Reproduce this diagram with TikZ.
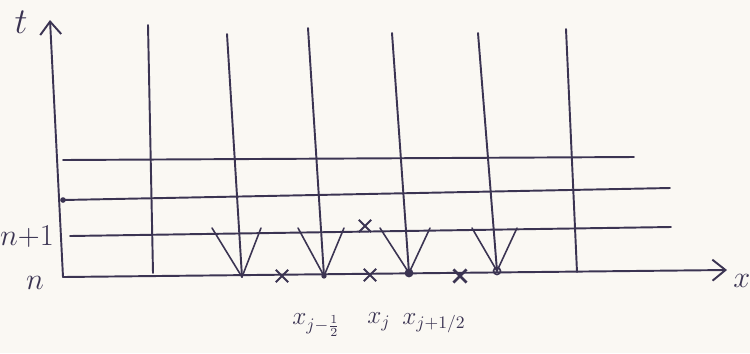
\documentclass[tikz,border=0pt]{standalone}
\usetikzlibrary{arrows.meta,shapes.misc}
\definecolor{cInk}{HTML}{3B3452}
\definecolor{cPaper}{HTML}{FAF8F3}
\tikzset{
  font=\LARGE,
  >={Straight Barb[length=2.6mm, width=4.2mm]},
  ink/.style={draw=cInk, line width=1.1pt, line cap=round, line join=round},
  axis/.style={ink, ->},
  gridl/.style={ink},
  fan/.style={ink, line width=0.9pt},
  xmark/.style={cross out, draw=cInk, line width=1.1pt, minimum size=6pt, inner sep=0pt},
  pdot/.style={circle, fill=cInk, inner sep=0pt, minimum size=#1},
  odot/.style={circle, draw=cInk, line width=0.9pt, inner sep=0pt, minimum size=4pt},
  lbl/.style={text=cInk},
  poslbl/.style={lbl, anchor=west, inner sep=0pt, font=\Large},
}

\begin{document}
\begin{tikzpicture}[x=0.02cm, y=-0.02cm]
\fill[cPaper] (0,0) rectangle (750,353);
\useasboundingbox (0,0) rectangle (750,353);

% ------------------------------------------------------------------ axes
\coordinate (O)    at (63,277);
\coordinate (ttip) at (50,20);
\coordinate (xtip) at (727,270);
\draw[axis] (O) -- (ttip);
\draw[axis] (O) -- (xtip);
\node[lbl, font=\huge] (tlab) at (21,22) {$t$};
\node[lbl, anchor=west, inner sep=0pt] (xlab) at (733,281) {$x$};
\node[lbl] (nlab)  at (35,283) {$n$};
\node[lbl] (n1lab) at (27,237) {$n{+}1$};

% ------------------------------------------------------------------ time levels
\coordinate (h1a) at (63,160);  \coordinate (h1b) at (634,157);
\coordinate (h2a) at (63,200);  \coordinate (h2b) at (670,188);
\coordinate (h3a) at (70,236);  \coordinate (h3b) at (671,227);
\draw[gridl] (h1a) -- (h1b);
\draw[gridl] (h2a) -- (h2b);
\draw[gridl] (h3a) -- (h3b);
\fill[cInk] (h2a) circle (1.6pt);

% ------------------------------------------------------------------ cell edges
\foreach \i/\xt/\yt/\xb/\yb in {1/148/25/153/273, 2/227/34/242/277, 3/308/28/324/276,
                                4/392/33/409/273, 5/478/33/497/271, 6/566/29/577/272}{
  \coordinate (vt\i) at (\xt,\yt);
  \coordinate (vb\i) at (\xb,\yb);
  \draw[gridl] (vt\i) -- (vb\i);
}

% characteristic fans going back to level n
\foreach \i/\la/\ra in {2/212/261, 3/298/344, 4/380/430, 5/472/517}{
  \coordinate (fl\i) at (\la,228);
  \coordinate (fr\i) at (\ra,228);
  \draw[fan] (fl\i) -- (vb\i) -- (fr\i);
}

% ------------------------------------------------------------------ points
\node[xmark] (c1) at (282,276) {};
\node[xmark] (c2) at (365,226) {};
\node[xmark] (c3) at (370,275) {};
\node[xmark, line width=1.5pt] (c4) at (460,276) {};
\node[pdot=3pt] (d1) at (vb3) {};
\node[pdot=5pt] (d2) at (vb4) {};
\node[odot]     (d3) at (vb5) {};

% ------------------------------------------------------------------ labels
\node[poslbl] (xm) at (292,325) {$x_{j-\frac{1}{2}}$};
\node[poslbl] (xj) at (367,322) {$x_j$};
\node[poslbl] (xp) at (402,323) {$x_{j+1/2}$};

\end{tikzpicture}
\end{document}
